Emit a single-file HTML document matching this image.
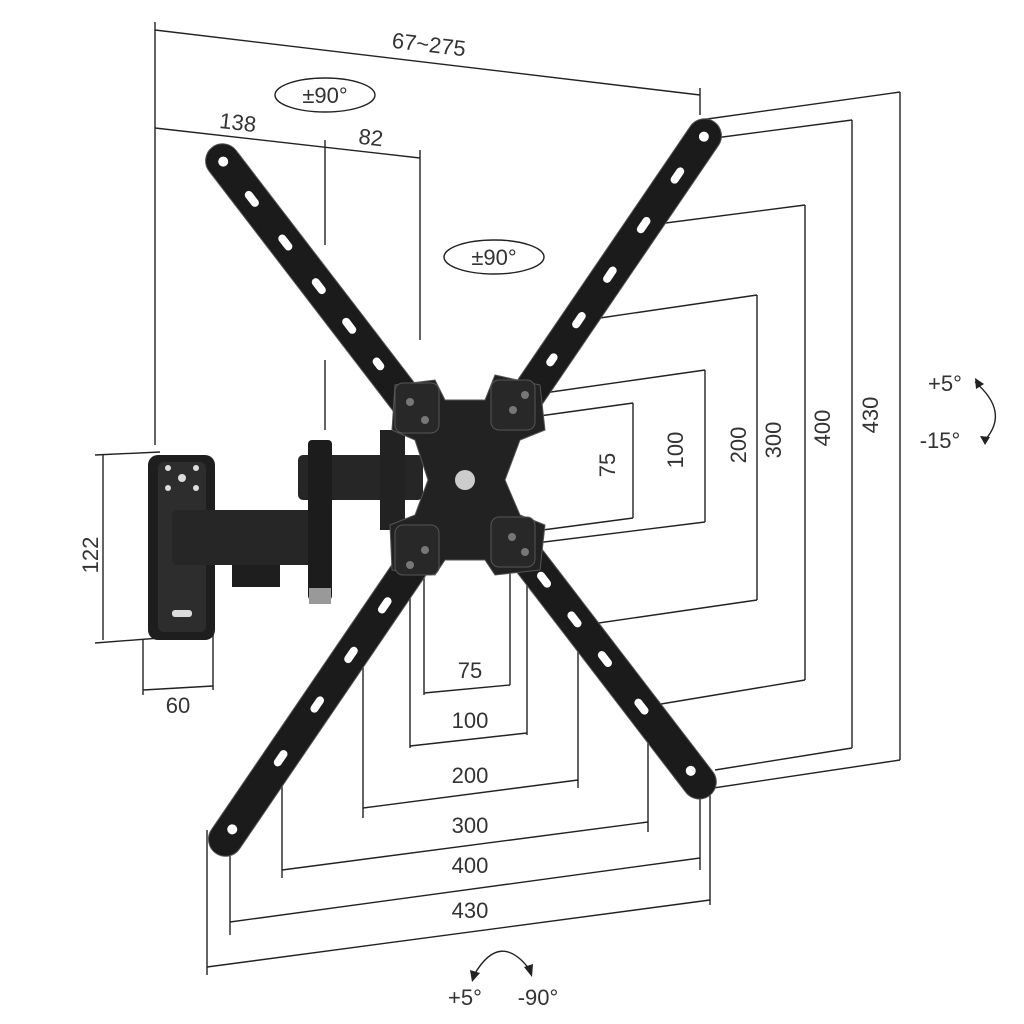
<!DOCTYPE html>
<html><head><meta charset="utf-8"><style>
html,body{margin:0;padding:0;background:#fff;}
svg{display:block}
text{font-family:"Liberation Sans",sans-serif;font-size:22px;fill:#333;}
</style></head><body>
<svg width="1024" height="1024" viewBox="0 0 1024 1024" xmlns="http://www.w3.org/2000/svg">
<g stroke="#222" stroke-width="1.4" fill="none">
<!-- top dims -->
<line x1="155" y1="30" x2="700" y2="95"/>
<line x1="155" y1="22" x2="155" y2="445"/>
<line x1="700" y1="88" x2="700" y2="115"/>
<line x1="155" y1="128" x2="420" y2="158"/>
<line x1="325" y1="140" x2="325" y2="245"/>
<line x1="420" y1="150" x2="420" y2="340"/>
<line x1="325" y1="360" x2="325" y2="430"/>
<!-- right dims -->
<line x1="900" y1="92" x2="900" y2="760"/>
<line x1="700" y1="120" x2="900" y2="92"/>
<line x1="700" y1="790" x2="900" y2="760"/>
<line x1="852" y1="120" x2="852" y2="748"/>
<line x1="715" y1="138" x2="852" y2="120"/>
<line x1="715" y1="770" x2="852" y2="748"/>
<line x1="805" y1="205" x2="805" y2="680"/>
<line x1="650" y1="225" x2="805" y2="205"/>
<line x1="655" y1="705" x2="805" y2="680"/>
<line x1="757" y1="295" x2="757" y2="600"/>
<line x1="600" y1="318" x2="757" y2="295"/>
<line x1="585" y1="625" x2="757" y2="600"/>
<line x1="705" y1="370" x2="705" y2="522"/>
<line x1="530" y1="395" x2="705" y2="370"/>
<line x1="520" y1="545" x2="705" y2="522"/>
<line x1="633" y1="403" x2="633" y2="518"/>
<line x1="525" y1="418" x2="633" y2="403"/>
<line x1="520" y1="533" x2="633" y2="518"/>
<!-- bottom dims -->
<line x1="424" y1="560" x2="424" y2="695"/><line x1="510" y1="560" x2="510" y2="685"/>
<line x1="424" y1="693" x2="510" y2="685"/>
<line x1="410" y1="580" x2="410" y2="748"/><line x1="527" y1="555" x2="527" y2="735"/>
<line x1="410" y1="746" x2="527" y2="733"/>
<line x1="363" y1="665" x2="363" y2="818"/><line x1="578" y1="625" x2="578" y2="788"/>
<line x1="363" y1="808" x2="578" y2="780"/>
<line x1="282" y1="760" x2="282" y2="878"/><line x1="648" y1="710" x2="648" y2="832"/>
<line x1="282" y1="870" x2="648" y2="822"/>
<line x1="700" y1="790" x2="700" y2="870"/>
<line x1="230" y1="835" x2="230" y2="935"/>
<line x1="230" y1="922" x2="700" y2="858"/>
<line x1="710" y1="790" x2="710" y2="905"/>
<line x1="207" y1="830" x2="207" y2="975"/>
<line x1="207" y1="967" x2="710" y2="900"/>
<!-- wall dims -->
<line x1="103" y1="455" x2="103" y2="640"/>
<line x1="95" y1="455" x2="160" y2="452"/>
<line x1="95" y1="643" x2="160" y2="638"/>
<line x1="143" y1="640" x2="143" y2="695"/>
<line x1="213" y1="630" x2="213" y2="690"/>
<line x1="143" y1="690" x2="213" y2="686"/>
<!-- rotation ellipses -->
<ellipse cx="325" cy="95" rx="50" ry="17"/>
<ellipse cx="494" cy="257" rx="50" ry="17"/>
<path d="M975 382 Q1010 412 985 440"/>
<path d="M474 975 Q500 930 530 970"/>
</g>
<g fill="#222">
<polygon points="975,378 984,384 976,389"/>
<polygon points="985,445 980,436 990,437"/>
<polygon points="472,982 470,970 480,973"/>
<polygon points="532,977 524,967 533,964"/>
</g>
<!-- arms -->
<g fill="#1b1b1b" stroke="#555" stroke-width="1">
<g transform="translate(222,160) rotate(52.5)">
<rect x="-16" y="-17" width="817" height="34" rx="17"/>
<g fill="#fff" stroke="none">
<circle cx="2" cy="0" r="5"/><rect x="40" y="-4" width="18" height="8" rx="4"/>
<rect x="95" y="-4" width="18" height="8" rx="4"/><rect x="150" y="-4" width="18" height="8" rx="4"/>
<rect x="200" y="-4" width="18" height="8" rx="4"/><rect x="250" y="-4" width="14" height="8" rx="4"/>
<rect x="520" y="-4" width="18" height="8" rx="4"/><rect x="570" y="-4" width="18" height="8" rx="4"/>
<rect x="620" y="-4" width="18" height="8" rx="4"/><rect x="680" y="-4" width="18" height="8" rx="4"/>
<circle cx="770" cy="0" r="5"/></g></g>
<g transform="translate(705,135) rotate(124.25)">
<rect x="-16" y="-17" width="885" height="34" rx="17"/>
<g fill="#fff" stroke="none">
<circle cx="2" cy="0" r="5"/><rect x="40" y="-4" width="18" height="8" rx="4"/>
<rect x="100" y="-4" width="18" height="8" rx="4"/><rect x="160" y="-4" width="18" height="8" rx="4"/>
<rect x="215" y="-4" width="18" height="8" rx="4"/><rect x="265" y="-4" width="14" height="8" rx="4"/>
<rect x="560" y="-4" width="18" height="8" rx="4"/><rect x="620" y="-4" width="18" height="8" rx="4"/>
<rect x="680" y="-4" width="18" height="8" rx="4"/><rect x="745" y="-4" width="18" height="8" rx="4"/>
<circle cx="840" cy="0" r="5"/></g></g>
</g>
<!-- wall plate and arms -->
<rect x="148" y="455" width="67" height="185" rx="10" fill="#1e1e1e"/>
<rect x="158" y="462" width="48" height="170" rx="6" fill="#2d2d2d"/>
<g fill="#ddd"><circle cx="168" cy="468" r="3"/><circle cx="196" cy="468" r="3"/><circle cx="168" cy="488" r="3"/><circle cx="196" cy="488" r="3"/><circle cx="182" cy="478" r="4"/><rect x="172" y="610" width="20" height="7" rx="3"/></g>
<rect x="232" y="565" width="48" height="22" fill="#1e1e1e"/>
<rect x="172" y="510" width="150" height="55" rx="6" fill="#262626"/>
<rect x="298" y="455" width="125" height="45" rx="5" fill="#262626"/>
<rect x="308" y="440" width="24" height="160" rx="4" fill="#1c1c1c"/>
<rect x="309" y="588" width="22" height="16" fill="#999"/>
<rect x="380" y="430" width="25" height="100" fill="#222"/>
<!-- center plate (X shaped) -->
<path d="M445 400 L485 400 L495 375 L540 385 L545 430 L520 440 L505 480 L520 515 L545 525 L540 570 L495 575 L485 560 L445 560 L435 575 L392 570 L390 525 L415 515 L428 480 L415 440 L392 430 L395 385 L435 380 Z" fill="#222" stroke="#555"/>
<g fill="#282828" stroke="#555">
<rect x="395" y="383" width="44" height="50" rx="8"/><rect x="491" y="380" width="44" height="50" rx="8"/>
<rect x="395" y="525" width="44" height="50" rx="8"/><rect x="491" y="517" width="44" height="50" rx="8"/>
</g>
<circle cx="465" cy="480" r="10" fill="#ccc"/>
<g fill="#777"><circle cx="410" cy="402" r="4"/><circle cx="425" cy="420" r="4"/><circle cx="513" cy="410" r="4"/><circle cx="525" cy="395" r="4"/><circle cx="410" cy="565" r="4"/><circle cx="425" cy="550" r="4"/><circle cx="512" cy="537" r="4"/><circle cx="525" cy="552" r="4"/></g>
<!-- labels -->
<text x="428" y="52" text-anchor="middle" transform="rotate(6.8 428 52)">67~275</text>
<text x="237" y="130" text-anchor="middle" transform="rotate(6.5 237 130)">138</text>
<text x="370" y="145" text-anchor="middle" transform="rotate(6.5 370 145)">82</text>
<text x="325" y="103" text-anchor="middle">±90°</text>
<text x="494" y="265" text-anchor="middle">±90°</text>
<text transform="translate(878,415) rotate(-90)" text-anchor="middle">430</text>
<text transform="translate(830,428) rotate(-90)" text-anchor="middle">400</text>
<text transform="translate(781,440) rotate(-90)" text-anchor="middle">300</text>
<text transform="translate(746,445) rotate(-90)" text-anchor="middle">200</text>
<text transform="translate(683,450) rotate(-90)" text-anchor="middle">100</text>
<text transform="translate(615,465) rotate(-90)" text-anchor="middle">75</text>
<text transform="translate(98,555) rotate(-90)" text-anchor="middle">122</text>
<text x="178" y="713" text-anchor="middle">60</text>
<text x="470" y="678" text-anchor="middle">75</text>
<text x="470" y="728" text-anchor="middle">100</text>
<text x="470" y="783" text-anchor="middle">200</text>
<text x="470" y="833" text-anchor="middle">300</text>
<text x="470" y="873" text-anchor="middle">400</text>
<text x="470" y="918" text-anchor="middle">430</text>
<text x="945" y="391" text-anchor="middle">+5°</text>
<text x="940" y="448" text-anchor="middle">-15°</text>
<text x="465" y="1005" text-anchor="middle">+5°</text>
<text x="538" y="1005" text-anchor="middle">-90°</text>
</svg>
</body></html>
